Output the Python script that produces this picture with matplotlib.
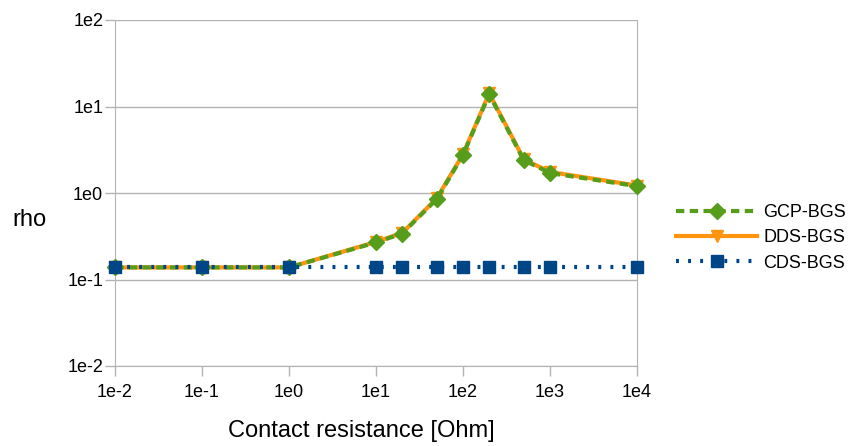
import matplotlib
matplotlib.use("Agg")
import matplotlib.pyplot as plt

plt.rcParams['font.family'] = ['Liberation Sans', 'DejaVu Sans']

x = [0.01, 0.1, 1, 10, 20, 50, 100, 200, 500, 1000, 10000]
gcp = [0.138, 0.138, 0.138, 0.268, 0.34, 0.85, 2.75, 13.8, 2.4, 1.7, 1.2]
dds = [0.138, 0.138, 0.138, 0.272, 0.345, 0.87, 2.8, 14.2, 2.45, 1.75, 1.22]
cds = [0.138] * 11
xticks = [1e-2, 1e-1, 1e0, 1e1, 1e2, 1e3, 1e4]
xlabels = ['1e-2', '1e-1', '1e0', '1e1', '1e2', '1e3', '1e4']
yticks = [1e-2, 1e-1, 1e0, 1e1, 1e2]
ylabels = ['1e-2', '1e-1', '1e0', '1e1', '1e2']

fig = plt.figure(figsize=(8.5, 4.46), dpi=100)
ax = fig.add_axes([115/850, 1-366/446, (637-115)/850, (366-20)/446])
ax.set_xscale('log')
ax.set_yscale('log')
ax.set_xlim(1e-2, 1e4)
ax.set_ylim(1e-2, 1e2)

grey = '#b3b3b3'
ax.plot(x, dds, color='#ff950e', lw=3, marker='v', ms=9, label='DDS-BGS', zorder=3, clip_on=False)
ax.plot(x, gcp, color='#579d1c', lw=3, ls=(0, (2, 1.3)), marker='D', ms=8, label='GCP-BGS', zorder=4, clip_on=False)
ax.plot(x, cds, color='#004586', lw=3, ls=(0, (0.7, 2.2)), marker='s', ms=9, label='CDS-BGS', zorder=5, clip_on=False)

ax.set_xticks(xticks)
ax.set_xticklabels(xlabels)
ax.set_yticks(yticks)
ax.set_yticklabels(ylabels)
ax.minorticks_off()
ax.tick_params(axis='both', colors=grey, labelcolor='black', labelsize=13, length=7, width=1)
ax.tick_params(axis='x', pad=6)
ax.tick_params(axis='y', pad=1.5)
ax.grid(axis='y', color=grey, lw=1)
for s in ['left', 'right', 'bottom']:
    ax.spines[s].set_color(grey)
ax.spines['top'].set_visible(False)

ax.set_xlabel('Contact resistance [Ohm]', fontsize=17, labelpad=14)
ax.xaxis.label.set_x(0.472)
fig.text(12/850, 1-220/446, 'rho', fontsize=17, va='center', ha='left')

h, l = ax.get_legend_handles_labels()
order = [1, 0, 2]
leg = fig.legend([h[i] for i in order], [l[i] for i in order], loc='center left',
                 bbox_to_anchor=(676/850, 1-238/446), frameon=False, fontsize=13,
                 handlelength=4.5, labelspacing=0.45, handletextpad=0.33,
                 borderpad=0, borderaxespad=0)

fig.savefig('out.png', dpi=100)
